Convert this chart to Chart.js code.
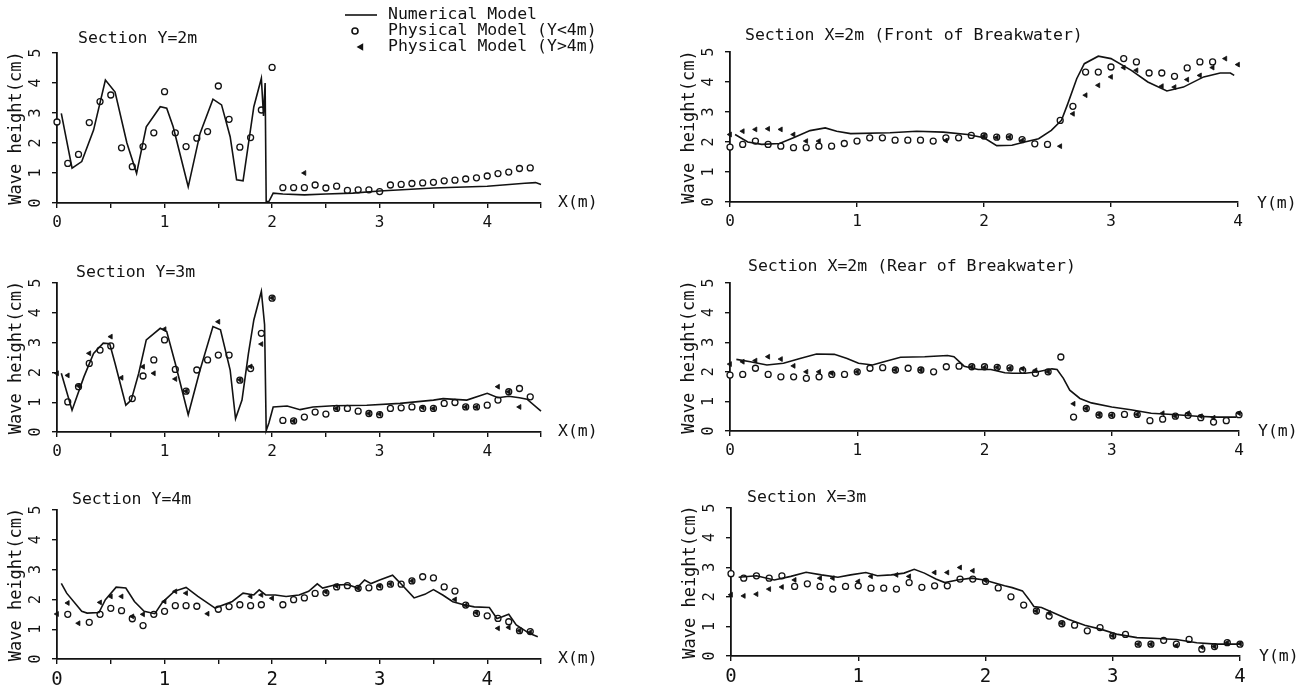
<!DOCTYPE html>
<html><head><meta charset="utf-8">
<script src="https://cdn.jsdelivr.net/npm/chart.js@4"></script>
<style>
html,body{margin:0;padding:0;background:#fff;}
body{width:1309px;height:689px;position:relative;overflow:hidden;}
.panel{position:absolute;}
.panel canvas{display:block;}
</style></head><body>
<div class="panel" style="left:0px;top:0px"><canvas id="c1" width="654" height="240"></canvas></div>
<div class="panel" style="left:0px;top:230px"><canvas id="c2" width="654" height="240"></canvas></div>
<div class="panel" style="left:0px;top:458px"><canvas id="c3" width="654" height="231"></canvas></div>
<div class="panel" style="left:673px;top:0px"><canvas id="c4" width="636" height="240"></canvas></div>
<div class="panel" style="left:673px;top:230px"><canvas id="c5" width="636" height="240"></canvas></div>
<div class="panel" style="left:674px;top:458px"><canvas id="c6" width="635" height="231"></canvas></div>
<script>
// ---------------- DATA ----------------
const legendLabels = ['Numerical Model', 'Physical Model (Y<4m)', 'Physical Model (Y>4m)'];
const sectionTitles = ['Section Y=2m', 'Section Y=3m', 'Section Y=4m',
  'Section X=2m (Front of Breakwater)', 'Section X=2m (Rear of Breakwater)', 'Section X=3m'];
const axisEndLabels = ['X(m)', 'X(m)', 'X(m)', 'Y(m)', 'Y(m)', 'Y(m)'];
const yAxisTitle = 'Wave height(cm)';
const xMaxes = [4.5, 4.5, 4.5, 4, 4, 4];
const xTickSteps = [0.5, 0.5, 0.5, 1, 1, 1];
const yMin = 0, yMax = 5, yStep = 1;

// Section Y=2m
const y2Model = [[0.04,2.99],[0.14,1.16],[0.23,1.38],[0.34,2.43],[0.45,4.1],[0.54,3.7],[0.65,2.0],[0.74,0.99],[0.83,2.54],[0.96,3.21],[1.02,3.16],[1.08,2.54],[1.22,0.54],[1.33,2.32],[1.45,3.46],[1.53,3.27],[1.61,2.21],[1.67,0.77],[1.73,0.74],[1.83,3.21],[1.9,4.16],[1.92,2.9],[1.935,4.0],[1.945,0.05],[1.97,0.05],[2.01,0.33],[2.1,0.3],[2.3,0.27],[2.5,0.3],[2.75,0.33],[3.0,0.4],[3.5,0.5],[4.0,0.56],[4.35,0.66],[4.45,0.68],[4.5,0.62]];
const y2Circles = [[0,2.7],[0.1,1.32],[0.2,1.62],[0.3,2.68],[0.4,3.38],[0.5,3.6],[0.6,1.84],[0.7,1.21],[0.8,1.88],[0.9,2.34],[1.0,3.71],[1.1,2.34],[1.2,1.88],[1.3,2.16],[1.4,2.38],[1.5,3.9],[1.6,2.79],[1.7,1.86],[1.8,2.18],[1.9,3.1],[2.0,4.52],[2.1,0.51],[2.2,0.51],[2.3,0.51],[2.4,0.6],[2.5,0.5],[2.6,0.56],[2.7,0.42],[2.8,0.44],[2.9,0.44],[3.0,0.38],[3.1,0.6],[3.2,0.62],[3.3,0.65],[3.4,0.67],[3.5,0.69],[3.6,0.74],[3.7,0.76],[3.8,0.8],[3.9,0.84],[4.0,0.9],[4.1,0.98],[4.2,1.03],[4.3,1.15],[4.4,1.17]];
const y2Triangles = [[2.3,1.0]];

// Section Y=3m
const y3Model = [[0.04,1.97],[0.14,0.73],[0.25,1.85],[0.34,2.64],[0.43,2.98],[0.49,2.96],[0.54,2.3],[0.64,0.9],[0.69,1.07],[0.76,1.97],[0.83,3.09],[0.96,3.48],[1.02,3.37],[1.1,2.3],[1.22,0.58],[1.33,2.08],[1.45,3.54],[1.52,3.43],[1.61,2.08],[1.66,0.45],[1.72,1.07],[1.78,2.64],[1.83,3.76],[1.9,4.72],[1.93,3.6],[1.945,0.05],[1.97,0.3],[2.01,0.84],[2.14,0.87],[2.26,0.75],[2.38,0.84],[2.57,0.88],[2.88,0.9],[3.19,0.96],[3.5,1.07],[3.59,1.12],[3.81,1.07],[4.0,1.3],[4.1,1.15],[4.2,1.2],[4.3,1.15],[4.37,1.1],[4.5,0.7]];
const y3Circles = [[0.1,1.01],[0.2,1.52],[0.3,2.3],[0.4,2.75],[0.5,2.89],[0.7,1.12],[0.8,1.88],[0.9,2.42],[1.0,3.09],[1.1,2.1],[1.2,1.37],[1.3,2.08],[1.4,2.42],[1.5,2.58],[1.6,2.58],[1.7,1.74],[1.8,2.13],[1.9,3.31],[2.0,4.49],[2.1,0.39],[2.2,0.37],[2.3,0.5],[2.4,0.67],[2.5,0.6],[2.6,0.79],[2.7,0.79],[2.8,0.7],[2.9,0.62],[3.0,0.58],[3.1,0.79],[3.2,0.81],[3.3,0.84],[3.4,0.79],[3.5,0.79],[3.6,0.96],[3.7,0.99],[3.8,0.84],[3.9,0.84],[4.0,0.9],[4.1,1.07],[4.2,1.35],[4.3,1.46],[4.4,1.18]];
const y3Triangles = [[0,1.97],[0.1,1.9],[0.2,1.55],[0.3,2.64],[0.5,3.2],[0.6,1.82],[0.8,2.19],[0.9,1.97],[1.0,3.45],[1.1,1.78],[1.2,1.37],[1.5,3.7],[1.7,1.75],[1.8,2.2],[1.9,2.95],[2.0,4.5],[2.2,0.37],[2.6,0.79],[2.9,0.62],[3.0,0.6],[3.4,0.82],[3.5,0.79],[3.8,0.84],[3.9,0.84],[4.1,1.52],[4.2,1.35],[4.3,0.84]];

// Section Y=4m
const y4Model = [[0.04,2.54],[0.09,2.21],[0.23,1.6],[0.28,1.54],[0.39,1.56],[0.45,1.99],[0.55,2.41],[0.64,2.38],[0.72,1.93],[0.81,1.6],[0.91,1.52],[0.98,1.9],[1.09,2.27],[1.2,2.4],[1.31,2.1],[1.47,1.71],[1.63,1.93],[1.73,2.21],[1.83,2.15],[1.88,2.32],[1.94,2.15],[2.03,2.15],[2.13,2.1],[2.25,2.15],[2.34,2.27],[2.42,2.52],[2.47,2.38],[2.58,2.48],[2.7,2.5],[2.79,2.39],[2.86,2.65],[2.92,2.53],[3.0,2.65],[3.12,2.81],[3.18,2.59],[3.32,2.05],[3.42,2.17],[3.5,2.33],[3.59,2.14],[3.68,1.92],[3.79,1.81],[3.88,1.75],[4.02,1.73],[4.09,1.36],[4.14,1.42],[4.2,1.5],[4.27,1.14],[4.33,1.0],[4.39,0.86],[4.47,0.75]];
const y4Circles = [[0.1,1.5],[0.3,1.23],[0.4,1.5],[0.5,1.7],[0.6,1.62],[0.7,1.35],[0.8,1.12],[0.9,1.5],[1.0,1.6],[1.1,1.79],[1.2,1.79],[1.3,1.77],[1.5,1.67],[1.6,1.76],[1.7,1.82],[1.8,1.79],[1.9,1.82],[2.1,1.82],[2.2,1.99],[2.3,2.05],[2.4,2.2],[2.5,2.22],[2.6,2.42],[2.7,2.46],[2.8,2.37],[2.9,2.39],[3.0,2.42],[3.1,2.51],[3.2,2.51],[3.3,2.62],[3.4,2.76],[3.5,2.72],[3.6,2.42],[3.7,2.28],[3.8,1.81],[3.9,1.53],[4.0,1.45],[4.1,1.36],[4.2,1.25],[4.3,0.95],[4.4,0.92]];
const y4Triangles = [[0,1.51],[0.1,1.88],[0.2,1.2],[0.4,1.9],[0.5,2.1],[0.6,2.1],[0.7,1.43],[0.8,1.5],[1.0,1.93],[1.1,2.27],[1.2,2.21],[1.4,1.52],[1.8,2.1],[1.9,2.15],[2.0,2.04],[2.5,2.25],[2.6,2.45],[2.8,2.37],[3.0,2.45],[3.1,2.52],[3.3,2.62],[3.7,2.0],[3.8,1.8],[3.9,1.55],[4.1,1.03],[4.2,1.06],[4.3,0.95],[4.4,0.9]];

// Section X=2m (Front of Breakwater)
const xFrontModel = [[0.04,2.25],[0.14,2.0],[0.25,1.92],[0.39,1.95],[0.5,2.14],[0.63,2.38],[0.75,2.47],[0.84,2.36],[0.95,2.28],[1.26,2.31],[1.47,2.36],[1.68,2.33],[1.87,2.25],[2.0,2.14],[2.1,1.88],[2.22,1.89],[2.32,2.0],[2.43,2.11],[2.53,2.39],[2.61,2.72],[2.66,3.28],[2.73,4.11],[2.79,4.61],[2.9,4.86],[3.0,4.78],[3.16,4.39],[3.29,4.0],[3.44,3.7],[3.57,3.83],[3.73,4.17],[3.86,4.3],[3.94,4.3],[3.97,4.22]];
const xFrontCircles = [[0,1.83],[0.1,1.92],[0.2,2.03],[0.3,1.92],[0.4,1.86],[0.5,1.81],[0.6,1.81],[0.7,1.86],[0.8,1.86],[0.9,1.95],[1.0,2.03],[1.1,2.14],[1.2,2.14],[1.3,2.06],[1.4,2.06],[1.5,2.06],[1.6,2.03],[1.7,2.14],[1.8,2.14],[1.9,2.22],[2.0,2.2],[2.1,2.16],[2.2,2.17],[2.3,2.08],[2.4,1.94],[2.5,1.92],[2.6,2.72],[2.7,3.19],[2.8,4.33],[2.9,4.33],[3.0,4.5],[3.1,4.78],[3.2,4.67],[3.3,4.3],[3.4,4.3],[3.5,4.19],[3.6,4.47],[3.7,4.67],[3.8,4.67],[3.9,5.26],[4.0,5.22]];
const xFrontTriangles = [[0,2.25],[0.1,2.36],[0.2,2.42],[0.3,2.44],[0.4,2.42],[0.5,2.25],[0.6,2.03],[0.7,2.03],[1.7,2.05],[2.0,2.2],[2.1,2.15],[2.2,2.17],[2.3,2.05],[2.6,1.86],[2.7,2.94],[2.8,3.56],[2.9,3.89],[3.0,4.17],[3.1,4.48],[3.2,4.39],[3.4,3.86],[3.5,3.83],[3.6,4.08],[3.7,4.22],[3.8,4.48],[3.9,4.78],[4.0,4.58]];

// Section X=2m (Rear of Breakwater)
const xRearModel = [[0.05,2.42],[0.16,2.34],[0.29,2.23],[0.42,2.29],[0.55,2.45],[0.68,2.6],[0.82,2.59],[0.92,2.45],[1.01,2.29],[1.12,2.23],[1.21,2.34],[1.34,2.49],[1.53,2.51],[1.71,2.55],[1.76,2.51],[1.84,2.19],[1.95,2.08],[2.05,2.08],[2.16,1.97],[2.22,1.95],[2.32,1.95],[2.42,2.0],[2.53,2.1],[2.57,2.08],[2.62,1.78],[2.67,1.38],[2.75,1.1],[2.84,0.95],[3.0,0.81],[3.15,0.72],[3.31,0.6],[3.51,0.55],[3.67,0.5],[3.83,0.47],[3.98,0.47]];
const xRearCircles = [[0,1.89],[0.1,1.91],[0.2,2.12],[0.3,1.91],[0.4,1.83],[0.5,1.83],[0.6,1.78],[0.7,1.83],[0.8,1.91],[0.9,1.91],[1.0,2.0],[1.1,2.12],[1.2,2.14],[1.3,2.06],[1.4,2.12],[1.5,2.06],[1.6,2.0],[1.7,2.17],[1.8,2.19],[1.9,2.17],[2.0,2.17],[2.1,2.15],[2.2,2.13],[2.3,2.05],[2.4,1.95],[2.5,2.0],[2.6,2.5],[2.7,0.47],[2.8,0.76],[2.9,0.54],[3.0,0.53],[3.1,0.56],[3.2,0.56],[3.3,0.35],[3.4,0.4],[3.5,0.5],[3.6,0.53],[3.7,0.45],[3.8,0.3],[3.9,0.35],[4.0,0.55]];
const xRearTriangles = [[0,2.26],[0.1,2.34],[0.2,2.38],[0.3,2.51],[0.4,2.43],[0.5,2.2],[0.6,2.0],[0.7,2.0],[0.8,1.95],[1.0,2.0],[1.3,2.06],[1.5,2.06],[1.9,2.17],[2.0,2.15],[2.1,2.15],[2.2,2.12],[2.3,2.1],[2.4,2.05],[2.5,2.0],[2.7,0.92],[2.8,0.76],[2.9,0.55],[3.0,0.53],[3.2,0.56],[3.4,0.6],[3.5,0.5],[3.6,0.6],[3.7,0.5],[3.8,0.45],[4.0,0.6]];

// Section X=3m
const x3Model = [[0.06,2.66],[0.2,2.71],[0.34,2.57],[0.47,2.69],[0.59,2.83],[0.71,2.74],[0.84,2.66],[0.94,2.74],[1.06,2.82],[1.15,2.71],[1.26,2.74],[1.36,2.8],[1.44,2.93],[1.52,2.8],[1.61,2.6],[1.68,2.48],[1.78,2.57],[1.89,2.63],[1.99,2.57],[2.15,2.37],[2.21,2.31],[2.29,2.2],[2.34,1.92],[2.38,1.67],[2.44,1.64],[2.52,1.49],[2.65,1.24],[2.78,1.04],[2.91,0.9],[3.04,0.73],[3.19,0.62],[3.35,0.59],[3.5,0.56],[3.66,0.45],[3.81,0.4],[4.01,0.4]];
const x3Circles = [[0,2.78],[0.1,2.63],[0.2,2.71],[0.3,2.63],[0.4,2.71],[0.5,2.35],[0.6,2.44],[0.7,2.35],[0.8,2.26],[0.9,2.35],[1.0,2.37],[1.1,2.29],[1.2,2.29],[1.3,2.26],[1.4,2.48],[1.5,2.32],[1.6,2.37],[1.7,2.37],[1.8,2.6],[1.9,2.6],[2.0,2.52],[2.1,2.3],[2.2,2.0],[2.3,1.72],[2.4,1.52],[2.5,1.35],[2.6,1.09],[2.7,1.04],[2.8,0.85],[2.9,0.96],[3.0,0.68],[3.1,0.73],[3.2,0.4],[3.3,0.4],[3.4,0.53],[3.5,0.4],[3.6,0.56],[3.7,0.23],[3.8,0.32],[3.9,0.45],[4.0,0.4]];
const x3Triangles = [[0,2.07],[0.1,2.03],[0.2,2.09],[0.3,2.26],[0.4,2.33],[0.5,2.57],[0.7,2.63],[0.8,2.63],[1.0,2.52],[1.1,2.69],[1.3,2.74],[1.4,2.69],[1.6,2.82],[1.7,2.82],[1.8,2.99],[1.9,2.88],[2.0,2.55],[2.4,1.52],[2.5,1.45],[2.6,1.1],[3.0,0.68],[3.2,0.4],[3.3,0.4],[3.5,0.35],[3.7,0.3],[3.8,0.32],[3.9,0.45],[4.0,0.42]];

// ---------------- STYLE / LAYOUT ----------------
const INK = '#121212';
const FONT = '"DejaVu Sans Mono", "Liberation Mono", monospace';

const panelSeries = [
  [y2Model, y2Circles, y2Triangles],
  [y3Model, y3Circles, y3Triangles],
  [y4Model, y4Circles, y4Triangles],
  [xFrontModel, xFrontCircles, xFrontTriangles],
  [xRearModel, xRearCircles, xRearTriangles],
  [x3Model, x3Circles, x3Triangles]
];

const panelLayout = [
  {pad:{top:53,right:113,bottom:7,left:0},  tickFont:16, titleDx:21, titleDy:14,   endDx:17, endDy:0, legend:true},
  {pad:{top:53,right:113,bottom:8,left:0},  tickFont:16, titleDx:19, titleDy:10.5, endDx:17, endDy:0},
  {pad:{top:52,right:113,bottom:0,left:0},  tickFont:19, titleDx:15, titleDy:10,   endDx:17, endDy:0},
  {pad:{top:52,right:71,bottom:8,left:0},   tickFont:16, titleDx:15, titleDy:16.5, endDx:19, endDy:2},
  {pad:{top:53,right:70,bottom:9,left:0},   tickFont:16, titleDx:18, titleDy:16,   endDx:19, endDy:1},
  {pad:{top:50,right:69,bottom:3,left:0},   tickFont:19, titleDx:16, titleDy:10.5, endDx:19, endDy:1}
];

function toXY(arr) { return arr.map(p => ({x: p[0], y: p[1]})); }

function drawMarker(ctx, style, x, y) {
  if (Chart.helpers && Chart.helpers.drawPoint) {
    Chart.helpers.drawPoint(ctx, style, x, y);
  }
}

const panelText = {
  id: 'panelText',
  afterDraw(chart, args, o) {
    const ctx = chart.ctx, a = chart.chartArea;
    ctx.save();
    ctx.fillStyle = INK;
    ctx.strokeStyle = INK;
    ctx.font = '16.5px ' + FONT;
    ctx.textBaseline = 'middle';
    ctx.textAlign = 'left';
    ctx.fillText(o.title, a.left + o.titleDx, a.top - o.titleDy);
    ctx.fillText(o.axisEnd, a.right + o.endDx, a.bottom + o.endDy);
    if (o.legend) {
      const ds = chart.data.datasets;
      const rows = [15, 31, 47];
      const textX = 388;
      ctx.lineWidth = ds[0].borderWidth;
      ctx.beginPath();
      ctx.moveTo(345, rows[0]); ctx.lineTo(377, rows[0]);
      ctx.stroke();
      ctx.fillText(ds[0].label, textX, rows[0]);
      ctx.fillStyle = ds[1].pointBackgroundColor;
      ctx.strokeStyle = ds[1].pointBorderColor;
      drawMarker(ctx, {pointStyle: ds[1].pointStyle, radius: ds[1].pointRadius, borderWidth: ds[1].pointBorderWidth, rotation: 0}, 355, rows[1]);
      ctx.fillStyle = INK;
      ctx.fillText(ds[1].label, textX, rows[1]);
      ctx.fillStyle = ds[2].pointBackgroundColor;
      ctx.strokeStyle = ds[2].pointBorderColor;
      drawMarker(ctx, {pointStyle: ds[2].pointStyle, radius: ds[2].pointRadius, borderWidth: ds[2].pointBorderWidth, rotation: ds[2].pointRotation}, 361, rows[2]);
      ctx.fillStyle = INK;
      ctx.fillText(ds[2].label, textX, rows[2]);
    }
    ctx.restore();
  }
};

panelSeries.forEach((series, i) => {
  const L = panelLayout[i];
  new Chart(document.getElementById('c' + (i + 1)), {
    type: 'scatter',
    data: {
      datasets: [
        {label: legendLabels[0], data: toXY(series[0]), showLine: true, borderColor: INK, borderWidth: 1.6,
         pointRadius: 0, tension: 0, fill: false, clip: 10, order: 0},
        {label: legendLabels[1], data: toXY(series[1]), pointStyle: 'circle', pointRadius: 3,
         pointBorderWidth: 1.3, pointBackgroundColor: '#ffffff', pointBorderColor: INK, clip: 10, order: 2},
        {label: legendLabels[2], data: toXY(series[2]), pointStyle: 'triangle', pointRotation: -90, pointRadius: 2.8,
         pointBorderWidth: 0.8, pointBackgroundColor: INK, pointBorderColor: INK, clip: 10, order: 1}
      ]
    },
    options: {
      responsive: false,
      animation: false,
      events: [],
      layout: {padding: L.pad},
      plugins: {
        legend: {display: false},
        tooltip: {enabled: false},
        panelText: {title: sectionTitles[i], axisEnd: axisEndLabels[i], titleDx: L.titleDx, titleDy: L.titleDy,
                    endDx: L.endDx, endDy: L.endDy, legend: !!L.legend}
      },
      scales: {
        x: {
          type: 'linear', min: 0, max: xMaxes[i],
          afterFit(s) { s.height = 30; },
          grid: {drawOnChartArea: false, drawTicks: true, tickLength: 5, color: INK, tickColor: INK, lineWidth: 1.4},
          border: {display: true, color: INK, width: 1.8},
          ticks: {
            stepSize: xTickSteps[i], autoSkip: false, maxRotation: 0, padding: 5, color: INK,
            font: {family: FONT, size: L.tickFont},
            callback(v) { return Math.abs(v - Math.round(v)) < 1e-6 ? String(Math.round(v)) : ''; }
          }
        },
        y: {
          type: 'linear', min: yMin, max: yMax,
          afterFit(s) { s.width = 57; },
          grid: {drawOnChartArea: false, drawTicks: true, tickLength: 5, color: INK, tickColor: INK, lineWidth: 1.4},
          border: {display: true, color: INK, width: 1.8},
          ticks: {stepSize: yStep, minRotation: 90, maxRotation: 90, crossAlign: 'center', padding: 11, color: INK,
                  font: {family: FONT, size: 15}},
          title: {display: true, text: yAxisTitle, color: INK, font: {family: FONT, size: 17}, padding: {top: 6, bottom: 0}}
        }
      }
    },
    plugins: [panelText]
  });
});
</script>
</body></html>
